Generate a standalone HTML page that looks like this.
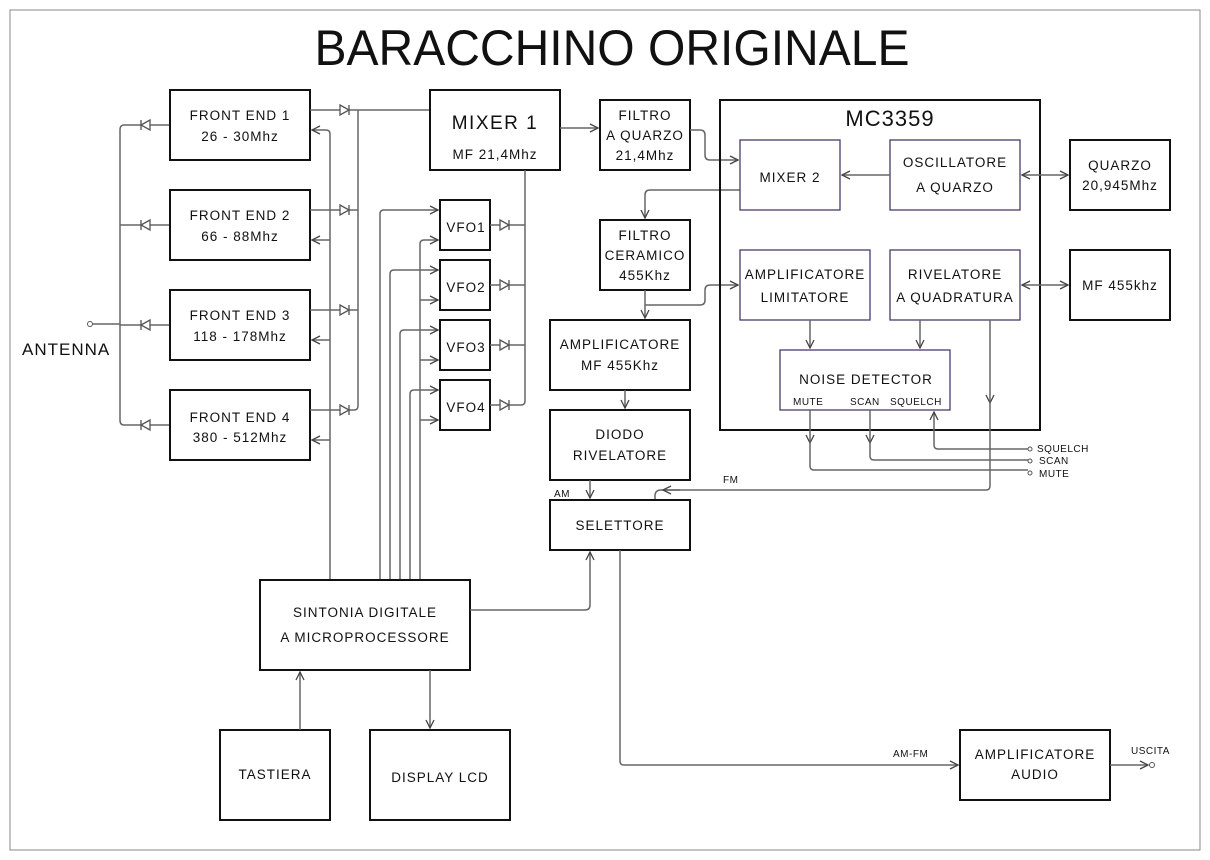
<!DOCTYPE html>
<html><head><meta charset="utf-8"><style>
body{margin:0;background:#fff}
svg{display:block}
text{font-family:"Liberation Sans",sans-serif;fill:#111}
.b{fill:none;stroke:#111;stroke-width:2}
.i{fill:none;stroke:#555;stroke-width:1.6}
.w{fill:none;stroke:#666;stroke-width:1.5}
.d{fill:#fff;stroke:#555;stroke-width:1.3}
.t{font-size:13.5px;text-anchor:middle;letter-spacing:1px}
.s{font-size:10px;letter-spacing:0.5px}
</style></head><body>
<svg width="1210" height="860" viewBox="0 0 1210 860">
<defs>
<marker id="a" markerWidth="10" markerHeight="10" refX="9" refY="5" orient="auto" markerUnits="userSpaceOnUse">
<path d="M1,1 L9,5 L1,9" fill="none" stroke="#444" stroke-width="1.3"/></marker>
<marker id="as" markerWidth="10" markerHeight="10" refX="1" refY="5" orient="auto" markerUnits="userSpaceOnUse">
<path d="M9,1 L1,5 L9,9" fill="none" stroke="#444" stroke-width="1.3"/></marker>
</defs>
<rect x="10" y="10" width="1190" height="840" fill="none" stroke="#888" stroke-width="1"/>
<text x="612" y="65" font-size="50" text-anchor="middle" textLength="595" lengthAdjust="spacingAndGlyphs">BARACCHINO ORIGINALE</text>

<!-- antenna -->
<circle cx="90" cy="324" r="2.5" fill="#fff" stroke="#555"/>
<text x="22" y="355" font-size="17" letter-spacing="1">ANTENNA</text>
<path class="w" d="M92,324 H120 M120,130 V420 M120,225 H170 M120,325 H170 M124,425 H170 M120,130 Q120,125 124,125 H170 M120,420 Q120,425 124,425"/>
<g class="d">
<path d="M141,125 L150,120 L150,130 Z M141,120 V130"/>
<path d="M141,225 L150,220 L150,230 Z M141,220 V230"/>
<path d="M141,325 L150,320 L150,330 Z M141,320 V330"/>
<path d="M141,425 L150,420 L150,430 Z M141,420 V430"/>
</g>

<!-- front ends -->
<rect class="b" x="170" y="90" width="140" height="70"/>
<rect class="b" x="170" y="190" width="140" height="70"/>
<rect class="b" x="170" y="290" width="140" height="70"/>
<rect class="b" x="170" y="390" width="140" height="70"/>
<text class="t" x="240" y="120">FRONT END 1</text><text class="t" x="240" y="141">26 - 30Mhz</text>
<text class="t" x="240" y="220">FRONT END 2</text><text class="t" x="240" y="241">66 - 88Mhz</text>
<text class="t" x="240" y="320">FRONT END 3</text><text class="t" x="240" y="341">118 - 178Mhz</text>
<text class="t" x="240" y="422">FRONT END 4</text><text class="t" x="240" y="442">380 - 512Mhz</text>

<path class="w" d="M310,110 H430 M310,210 H358 M310,310 H358 M310,410 H354 Q358,410 358,406 V110"/>
<g class="d">
<path d="M340,105 L349,110 L340,115 Z M349,105 V115"/>
<path d="M340,205 L349,210 L340,215 Z M349,205 V215"/>
<path d="M340,305 L349,310 L340,315 Z M349,305 V315"/>
<path d="M340,405 L349,410 L340,415 Z M349,405 V415"/>
</g>
<path class="w" d="M330,580 V134 Q330,130 326,130 H312" marker-end="url(#a)"/>
<path class="w" d="M330,240 H312" marker-end="url(#a)"/>
<path class="w" d="M330,340 H312" marker-end="url(#a)"/>
<path class="w" d="M330,440 H312" marker-end="url(#a)"/>

<!-- mixer1 -->
<rect class="b" x="430" y="90" width="130" height="80"/>
<text x="495" y="129" font-size="19" text-anchor="middle" letter-spacing="1.5">MIXER 1</text>
<text class="t" x="495" y="159">MF 21,4Mhz</text>

<!-- VFOs -->
<rect class="b" x="440" y="200" width="50" height="50"/>
<rect class="b" x="440" y="260" width="50" height="50"/>
<rect class="b" x="440" y="320" width="50" height="50"/>
<rect class="b" x="440" y="380" width="50" height="50"/>
<text class="t" x="466" y="232">VFO1</text><text class="t" x="466" y="292">VFO2</text>
<text class="t" x="466" y="352">VFO3</text><text class="t" x="466" y="412">VFO4</text>
<path class="w" d="M525,170 V401 Q525,405 521,405 H490 M490,225 H525 M490,285 H525 M490,345 H525"/>
<g class="d">
<path d="M500,220 L509,225 L500,230 Z M509,220 V230"/>
<path d="M500,280 L509,285 L500,290 Z M509,280 V290"/>
<path d="M500,340 L509,345 L500,350 Z M509,340 V350"/>
<path d="M500,400 L509,405 L500,410 Z M509,400 V410"/>
</g>
<g class="w">
<path d="M380,580 V214 Q380,210 384,210 H438" marker-end="url(#a)"/>
<path d="M390,580 V274 Q390,270 394,270 H438" marker-end="url(#a)"/>
<path d="M400,580 V334 Q400,330 404,330 H438" marker-end="url(#a)"/>
<path d="M410,580 V394 Q410,390 414,390 H438" marker-end="url(#a)"/>
<path d="M420,580 V244 Q420,240 424,240 H438" marker-end="url(#a)"/>
<path d="M420,300 H438" marker-end="url(#a)"/>
<path d="M420,360 H438" marker-end="url(#a)"/>
<path d="M420,420 H438" marker-end="url(#a)"/>
</g>

<!-- filters -->
<rect class="b" x="600" y="100" width="90" height="70"/>
<text class="t" x="645" y="120">FILTRO</text><text class="t" x="645" y="140">A QUARZO</text><text class="t" x="645" y="160">21,4Mhz</text>
<path class="w" d="M560,128 H598" marker-end="url(#a)"/>
<path class="w" d="M690,130 H700 Q705,130 705,135 V155 Q705,160 710,160 H738" marker-end="url(#a)"/>

<rect class="b" x="600" y="220" width="90" height="70"/>
<text class="t" x="645" y="240">FILTRO</text><text class="t" x="645" y="260">CERAMICO</text><text class="t" x="645" y="280">455Khz</text>
<path class="w" d="M740,190 H650 Q645,190 645,195 V218" marker-end="url(#a)"/>
<path class="w" d="M645,290 V318" marker-end="url(#a)"/>
<path class="w" d="M645,305 H700 Q705,305 705,300 V290 Q705,285 710,285 H738" marker-end="url(#a)"/>

<!-- MC3359 -->
<rect class="b" x="720" y="100" width="320" height="330"/>
<text x="890" y="126" font-size="22" text-anchor="middle" letter-spacing="1">MC3359</text>
<g stroke="#4a3a6a" stroke-width="1.3" fill="none">
<rect x="740" y="140" width="100" height="70"/>
<rect x="890" y="140" width="130" height="70"/>
<rect x="740" y="250" width="130" height="70"/>
<rect x="890" y="250" width="130" height="70"/>
<rect x="780" y="350" width="170" height="60"/>
</g>
<text class="t" x="790" y="182">MIXER 2</text>
<text class="t" x="955" y="167">OSCILLATORE</text><text class="t" x="955" y="192">A QUARZO</text>
<text class="t" x="805" y="279">AMPLIFICATORE</text><text class="t" x="805" y="302">LIMITATORE</text>
<text class="t" x="955" y="279">RIVELATORE</text><text class="t" x="955" y="302">A QUADRATURA</text>
<text class="t" x="866" y="384">NOISE DETECTOR</text>
<text class="s" x="793" y="405">MUTE</text><text class="s" x="850" y="405">SCAN</text><text class="s" x="890" y="405">SQUELCH</text>
<path class="w" d="M890,175 H842" marker-end="url(#a)"/>
<path class="w" d="M1022,175 H1068" marker-start="url(#as)" marker-end="url(#a)"/>
<path class="w" d="M1022,285 H1068" marker-start="url(#as)" marker-end="url(#a)"/>
<path class="w" d="M810,320 V348" marker-end="url(#a)"/>
<path class="w" d="M920,320 V348" marker-end="url(#a)"/>

<rect class="b" x="1070" y="140" width="100" height="70"/>
<text class="t" x="1120" y="170">QUARZO</text><text class="t" x="1120" y="190">20,945Mhz</text>
<rect class="b" x="1070" y="250" width="100" height="70"/>
<text class="t" x="1120" y="290">MF 455khz</text>

<!-- noise lines -->
<path class="w" d="M810,410 V443" marker-end="url(#a)"/>
<path class="w" d="M810,440 V466 Q810,470 814,470 H1028"/>
<path class="w" d="M870,410 V443" marker-end="url(#a)"/>
<path class="w" d="M870,440 V456 Q870,460 874,460 H1028"/>
<path class="w" d="M1028,449 H938 Q934,449 934,445 V412" marker-end="url(#a)"/>
<g fill="#fff" stroke="#555"><circle cx="1030" cy="449" r="2"/><circle cx="1030" cy="461" r="2"/><circle cx="1030" cy="473" r="2"/></g>
<text class="s" x="1037" y="452">SQUELCH</text><text class="s" x="1039" y="464">SCAN</text><text class="s" x="1039" y="477">MUTE</text>

<!-- FM -->
<path class="w" d="M990,320 V403" marker-end="url(#a)"/>
<path class="w" d="M990,400 V486 Q990,490 986,490 H661 Q655,490 655,496 V500"/>
<path class="w" d="M680,490 H663" marker-end="url(#a)"/>
<text class="s" x="723" y="483">FM</text>

<!-- AM chain -->
<rect class="b" x="550" y="320" width="140" height="70"/>
<text class="t" x="620" y="349">AMPLIFICATORE</text><text class="t" x="620" y="370">MF 455Khz</text>
<path class="w" d="M625,390 V408" marker-end="url(#a)"/>
<rect class="b" x="550" y="410" width="140" height="70"/>
<text class="t" x="620" y="439">DIODO</text><text class="t" x="620" y="460">RIVELATORE</text>
<path class="w" d="M590,480 V498" marker-end="url(#a)"/>
<text class="s" x="554" y="497">AM</text>
<rect class="b" x="550" y="500" width="140" height="50"/>
<text class="t" x="620" y="530">SELETTORE</text>

<!-- sintonia -->
<rect class="b" x="260" y="580" width="210" height="90"/>
<text class="t" x="365" y="617">SINTONIA DIGITALE</text><text class="t" x="365" y="642">A MICROPROCESSORE</text>
<path class="w" d="M470,610 H585 Q590,610 590,605 V552" marker-end="url(#a)"/>
<rect class="b" x="220" y="730" width="110" height="90"/>
<text class="t" x="275" y="779">TASTIERA</text>
<path class="w" d="M300,730 V672" marker-end="url(#a)"/>
<rect class="b" x="370" y="730" width="140" height="90"/>
<text class="t" x="440" y="782">DISPLAY LCD</text>
<path class="w" d="M430,670 V728" marker-end="url(#a)"/>

<!-- audio -->
<path class="w" d="M620,550 V761 Q620,765 624,765 H958" marker-end="url(#a)"/>
<text class="s" x="893" y="757">AM-FM</text>
<rect class="b" x="960" y="730" width="150" height="70"/>
<text class="t" x="1035" y="759">AMPLIFICATORE</text><text class="t" x="1035" y="779">AUDIO</text>
<path class="w" d="M1110,765 H1148" marker-end="url(#a)"/>
<circle cx="1152" cy="765" r="2.5" fill="#fff" stroke="#555"/>
<text class="s" x="1131" y="754">USCITA</text>
</svg>
</body></html>
